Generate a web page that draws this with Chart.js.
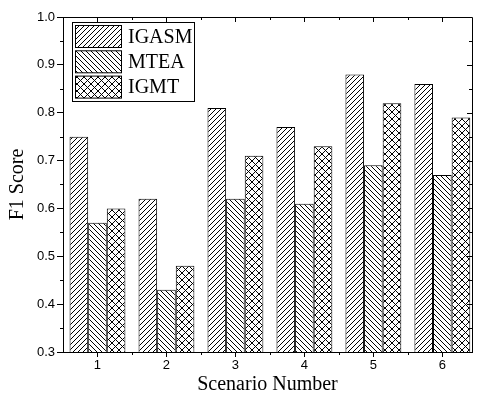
<!DOCTYPE html>
<html>
<head>
<meta charset="utf-8">
<script src="https://cdn.jsdelivr.net/npm/chart.js@4"></script>
<style>
  body { margin: 0; background: #fff; }
</style>
</head>
<body>
<canvas id="grafico" width="478" height="393"></canvas>
<script>
const cenarios = [1, 2, 3, 4, 5, 6];
const igasm = [0.75, 0.62, 0.81, 0.77, 0.88, 0.86];
const mtea = [0.57, 0.43, 0.62, 0.61, 0.69, 0.67];
const igmt = [0.60, 0.48, 0.71, 0.73, 0.82, 0.79];
const nomes = ["IGASM", "MTEA", "IGMT"];

function hachura(tipo) {
    const n = tipo === "x" ? 7 : 5;
    const c = document.createElement("canvas");
    c.width = n;
    c.height = n;
    const g = c.getContext("2d");
    g.fillStyle = "#fff";
    g.fillRect(0, 0, n, n);
    g.strokeStyle = "#000";
    g.lineWidth = 1;
    g.beginPath();
    if (tipo === "/" || tipo === "x") {
        g.moveTo(-1, n + 1); g.lineTo(n + 1, -1);
        g.moveTo(-1, 1); g.lineTo(1, -1);
        g.moveTo(n - 1, n + 1); g.lineTo(n + 1, n - 1);
    }
    if (tipo === "\\" || tipo === "x") {
        g.moveTo(-1, -1); g.lineTo(n + 1, n + 1);
        g.moveTo(n - 1, -1); g.lineTo(n + 1, 1);
        g.moveTo(-1, n - 1); g.lineTo(1, n + 1);
    }
    g.stroke();
    return g.createPattern(c, "repeat");
}

const padroes = [hachura("/"), hachura("\\"), hachura("x")];

function pontos(valores) {
    return cenarios.map((c, i) => ({ x: c, y: valores[i] }));
}

const moldura = {
    id: "moldura",
    afterDraw(chart) {
        const ctx = chart.ctx;
        const a = chart.chartArea;
        const sx = chart.scales.x;
        const sy = chart.scales.y;
        ctx.save();
        ctx.strokeStyle = "#000";
        ctx.lineWidth = 1;
        ctx.beginPath();
        ctx.rect(Math.round(a.left) + 0.5, Math.round(a.top) + 0.5,
            Math.round(a.right - a.left), Math.round(a.bottom - a.top));
        // x ticks
        for (let v = 1; v <= 6; v++) {
            const px = Math.round(sx.getPixelForValue(v)) + 0.5;
            ctx.moveTo(px, a.top); ctx.lineTo(px, a.top + 5);
        }
        for (let v = 1.5; v < 6.4; v++) {
            const px = Math.round(sx.getPixelForValue(v)) + 0.5;
            ctx.moveTo(px, a.bottom); ctx.lineTo(px, a.bottom + 3);
            ctx.moveTo(px, a.top); ctx.lineTo(px, a.top + 3);
        }
        // y ticks
        for (let k = 3; k <= 10; k++) {
            const py = Math.round(sy.getPixelForValue(k / 10)) + 0.5;
            ctx.moveTo(a.right, py); ctx.lineTo(a.right - 5, py);
        }
        for (let k = 3; k < 10; k++) {
            const py = Math.round(sy.getPixelForValue(k / 10 + 0.05)) + 0.5;
            ctx.moveTo(a.left, py); ctx.lineTo(a.left - 3, py);
            ctx.moveTo(a.right, py); ctx.lineTo(a.right - 3, py);
        }
        ctx.stroke();

        // legenda
        const lx = 72.5, ly = 22.5, lw = 122, lh = 79;
        ctx.fillStyle = "#fff";
        ctx.fillRect(lx, ly, lw, lh);
        ctx.strokeRect(lx, ly, lw, lh);
        ctx.font = "20px 'Liberation Serif'";
        ctx.textBaseline = "middle";
        ctx.textAlign = "left";
        chart.data.datasets.forEach((ds, i) => {
            const y = 25.5 + i * 25.3;
            ctx.fillStyle = ds.backgroundColor;
            ctx.fillRect(75.5, y, 46, 22);
            ctx.strokeRect(75.5, y, 46, 22);
            ctx.fillStyle = "#000";
            ctx.fillText(ds.label, 128, y + 12);
        });
        ctx.restore();
    },
};

new Chart(document.getElementById("grafico"), {
    type: "bar",
    data: {
        datasets: [igasm, mtea, igmt].map((v, i) => ({
            label: nomes[i],
            data: pontos(v),
            backgroundColor: padroes[i],
            borderColor: "#000",
            borderWidth: 1,
            borderSkipped: false,
            categoryPercentage: 0.81,
            barPercentage: 1.0,
        })),
    },
    options: {
        responsive: false,
        animation: false,
        devicePixelRatio: 1,
        layout: { padding: { left: 0, top: 17, right: 6, bottom: 0 } },
        plugins: { legend: { display: false }, tooltip: { enabled: false } },
        scales: {
            x: {
                type: "linear",
                min: 0.5,
                max: 6.43,
                offset: false,
                afterFit: (s) => { s.height = 41; },
                afterBuildTicks: (s) => { s.ticks = cenarios.map((v) => ({ value: v })); },
                grid: { display: true, offset: false, drawOnChartArea: false, drawTicks: true, tickLength: 5, color: "#000" },
                border: { display: true, color: "#000" },
                ticks: {
                    color: "#000",
                    padding: 1,
                    font: { family: "'Liberation Sans'", size: 13 },
                    callback: (v) => String(v),
                },
                title: {
                    display: true,
                    text: "Scenario Number",
                    color: "#000",
                    font: { family: "'Liberation Serif'", size: 20, lineHeight: 1 },
                    padding: { top: 0, bottom: -2 },
                },
            },
            y: {
                min: 0.3,
                max: 1.0,
                afterFit: (s) => { s.width = 63; },
                grid: { display: true, drawOnChartArea: false, drawTicks: true, tickLength: 6, color: "#000" },
                border: { display: true, color: "#000" },
                ticks: {
                    stepSize: 0.1,
                    color: "#000",
                    padding: 2,
                    font: { family: "'Liberation Sans'", size: 13 },
                    callback: (v) => v.toFixed(1),
                },
                title: {
                    display: true,
                    text: "F1 Score",
                    color: "#000",
                    font: { family: "'Liberation Serif'", size: 20, lineHeight: 1 },
                    padding: { top: 8, bottom: 0 },
                },
            },
        },
    },
    plugins: [moldura],
});
</script>
</body>
</html>
